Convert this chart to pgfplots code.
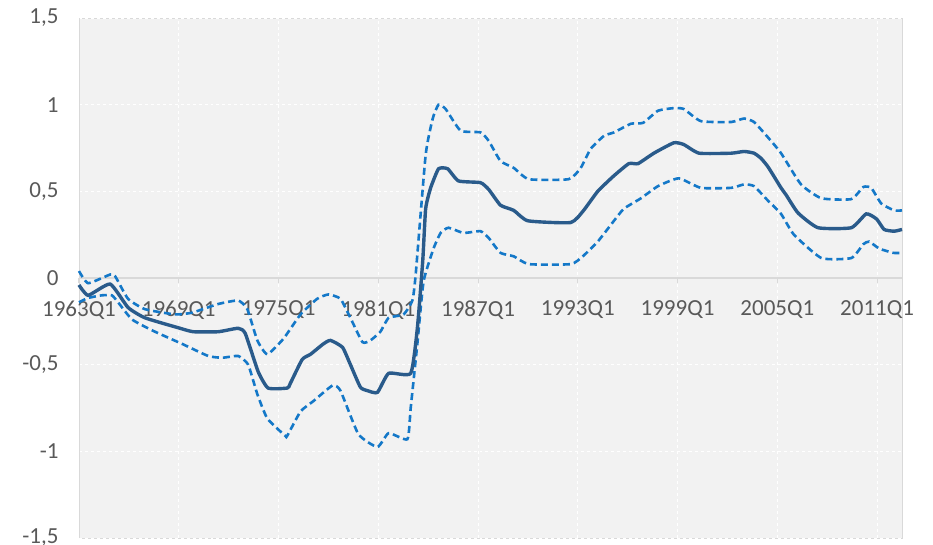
\documentclass[border=0pt]{standalone}
\usepackage{pgfplots}
\pgfplotsset{compat=1.18}
\usepackage{fontspec}
\setmainfont{Carlito}
\definecolor{bgc}{HTML}{F2F2F2}
\definecolor{brd}{HTML}{D9D9D9}
\definecolor{txt}{HTML}{595959}
\definecolor{cmain}{HTML}{2A5B8B}
\definecolor{cband}{HTML}{1478C8}
\begin{document}
\begin{tikzpicture}
\begin{axis}[
  name=ax,
  scale only axis,
  width=823bp, height=520bp,
  xmin=0, xmax=198, ymin=-1.5, ymax=1.5,
  axis x line*=middle,
  axis y line*=left,
  hide obscured x ticks=false,
  axis background/.style={fill=bgc, draw=brd, line width=0.8bp},
  x axis line style={draw=brd, line width=1.2bp},
  y axis line style={draw=brd, line width=0.8bp},
  xtick={0,24,48,72,96,120,144,168,192},
  xticklabels={1963Q1,1969Q1,1975Q1,1981Q1,1987Q1,1993Q1,1999Q1,2005Q1,2011Q1},
  ytick={-1.5,-1,-0.5,0,0.5,1,1.5},
  yticklabels={{-1,5},{-1},{-0,5},0,{0,5},1,{1,5}},
  tick label style={font=\fontsize{23bp}{26bp}\selectfont, text=txt},
  xtick style={draw=brd, line width=1bp},
  ytick style={draw=none},
  tick align=outside,
  major tick length=5bp,
  xticklabel style={yshift=-14bp},
  yticklabel style={xshift=-12bp},
  grid=major,
  major grid style={draw=white, dashed, line width=0.8bp},
  clip=false,
]
\addplot[cband, line width=2.6bp, dash pattern=on 7bp off 4bp, smooth, tension=0.3] coordinates {
(0,0.04)(2.2,-0.03)(7.5,0.02)(8.7,0.01)(11.8,-0.12)(15.9,-0.18)(23.1,-0.21)(27.2,-0.20)(33.5,-0.15)(38.3,-0.13)(40.5,-0.18)(42.9,-0.36)(45.3,-0.44)(49.2,-0.35)(53.3,-0.21)(57.3,-0.12)(60,-0.095)(62.9,-0.12)(65.3,-0.23)(68.2,-0.37)(70.1,-0.36)(72.5,-0.31)(74.5,-0.23)(78.1,-0.21)(80.2,-0.13)(81,0.02)(83.4,0.71)(85.1,0.92)(86.5,1.0)(88.2,0.975)(91.8,0.85)(96.6,0.84)(98.6,0.79)(101.4,0.675)(104.6,0.635)(108.2,0.57)(117.8,0.57)(120.7,0.635)(123.1,0.745)(126.3,0.82)(128.7,0.84)(132.8,0.89)(135.7,0.895)(139.3,0.965)(143.1,0.98)(145.5,0.975)(149.6,0.905)(156.9,0.90)(160,0.92)(162.4,0.90)(165.8,0.81)(168.9,0.72)(173.7,0.54)(178.6,0.46)(185.8,0.455)(188.7,0.525)(190.6,0.52)(193,0.43)(196.1,0.39)(198,0.39)
};
\addplot[cband, line width=2.6bp, dash pattern=on 7bp off 4bp, smooth, tension=0.3] coordinates {
(0,-0.14)(2.2,-0.115)(5.5,-0.10)(7.9,-0.10)(9.4,-0.14)(12.8,-0.24)(18.3,-0.31)(24.8,-0.38)(31.1,-0.45)(34.5,-0.46)(38.3,-0.45)(40.7,-0.50)(42.9,-0.67)(45.3,-0.81)(49.6,-0.91)(50.1,-0.91)(53.3,-0.77)(56.4,-0.71)(61,-0.62)(62.9,-0.65)(67.2,-0.90)(71.8,-0.975)(74.5,-0.895)(79,-0.93)(79.8,-0.75)(81.4,-0.38)(82.9,-0.02)(85.3,0.17)(87,0.26)(88.9,0.29)(92.5,0.26)(96.6,0.27)(98.6,0.23)(101.4,0.145)(104.6,0.125)(108.2,0.08)(118.3,0.08)(121.2,0.125)(124.8,0.21)(128.7,0.33)(131.1,0.40)(135.2,0.46)(139.3,0.53)(144.3,0.575)(149.6,0.52)(156.9,0.52)(160,0.54)(162.4,0.53)(165.8,0.445)(168.9,0.37)(172,0.25)(178.6,0.115)(185.8,0.115)(188.7,0.195)(190.1,0.21)(192.5,0.17)(195.9,0.145)(198,0.145)
};
\addplot[cmain, line width=3.4bp, smooth, tension=0.3] coordinates {
(0,-0.04)(2.2,-0.10)(7.5,-0.035)(11.8,-0.17)(15.9,-0.23)(24.3,-0.29)(27.5,-0.31)(33.5,-0.31)(38.3,-0.29)(40,-0.32)(43.1,-0.54)(45.5,-0.635)(50.1,-0.635)(50.8,-0.61)(53.7,-0.47)(55.7,-0.44)(58.8,-0.38)(60.5,-0.36)(63.4,-0.40)(65.3,-0.50)(67.7,-0.63)(69.4,-0.65)(71.8,-0.66)(74.5,-0.55)(79.8,-0.55)(81.4,-0.29)(82.7,0.10)(83.4,0.40)(84.6,0.52)(86.5,0.63)(88.7,0.63)(91.3,0.56)(96.6,0.55)(98.6,0.51)(101.4,0.42)(104.6,0.39)(108,0.33)(118.3,0.32)(121.4,0.39)(124.8,0.50)(128.7,0.59)(132.3,0.66)(134.5,0.66)(138.3,0.72)(143.1,0.78)(145.5,0.77)(149.2,0.72)(156.9,0.72)(160,0.73)(162.4,0.72)(164.1,0.69)(165.8,0.64)(168.9,0.52)(170.1,0.48)(173,0.375)(177.8,0.29)(185.8,0.29)(189.4,0.37)(191.9,0.34)(193.7,0.28)(196.1,0.27)(198,0.28)
};
\end{axis}
\pgfresetboundingbox
\path[use as bounding box] ([xshift=-79bp,yshift=-7bp]ax.south west) rectangle ([xshift=31bp,yshift=18bp]ax.north east);
\end{tikzpicture}
\end{document}
